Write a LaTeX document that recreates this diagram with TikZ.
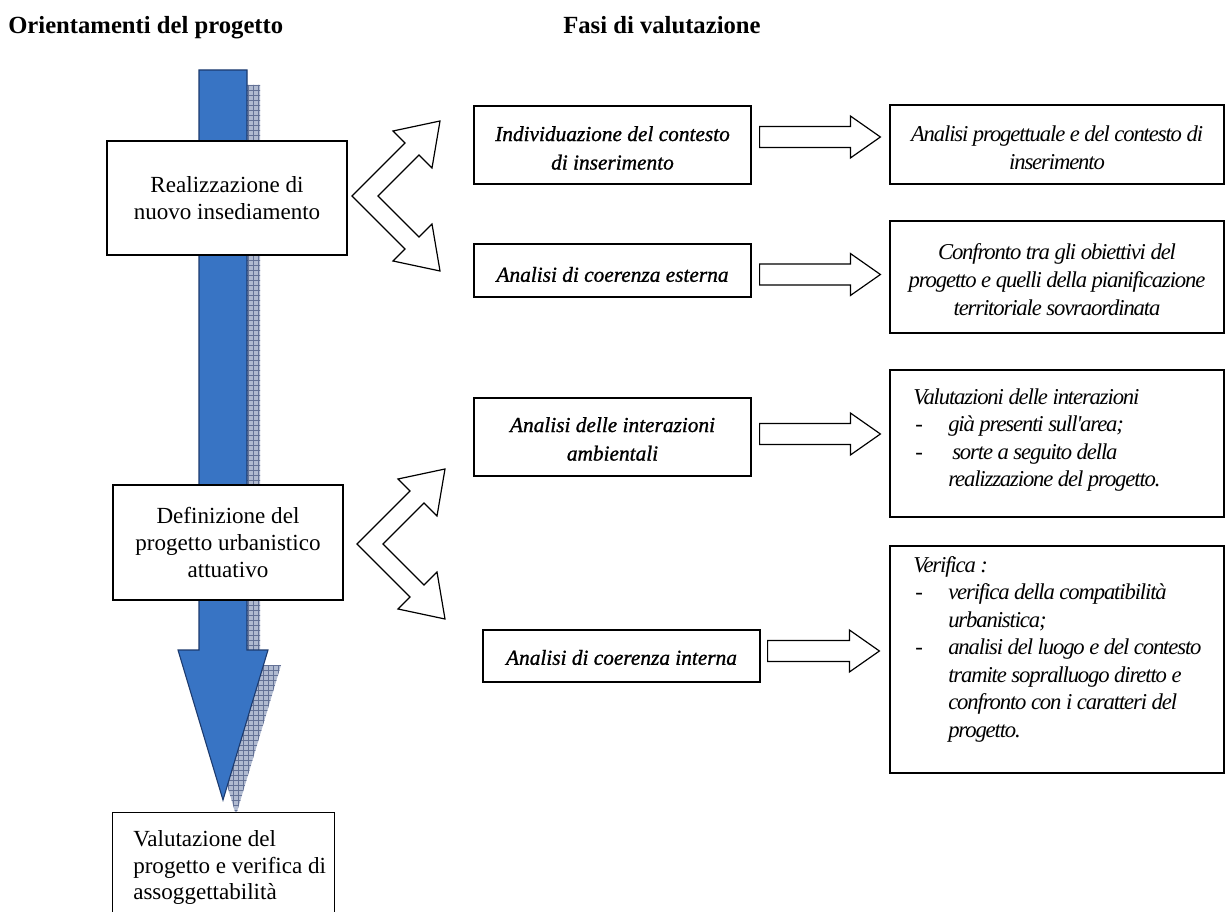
\documentclass[tikz,border=0pt]{standalone}
\usepackage{fontspec}
\setmainfont{Liberation Serif}
\newfontfamily\midfont{Liberation Serif}[ItalicFeatures={FakeBold=1.0}]
\newfontfamily\rightfont{Liberation Serif}[LetterSpace=-5]
\usetikzlibrary{calc,fit}
\definecolor{arrowblue}{RGB}{56,116,196}
\definecolor{arrowedge}{RGB}{28,58,110}
\definecolor{shadowbg}{RGB}{176,186,208}
\definecolor{shadowln}{RGB}{100,114,150}
\newcommand\dashlead{\makebox[26.25pt][l]{\hspace*{1.5pt}-}}
\newcommand\contlead{\hspace*{26.25pt}}
\newcommand\blockarr[2]{\draw[blockarrow] let \p1=(#1), \p2=(#2) in
  (\x1,\y1+7.9pt) -- (\x2-22.5pt,\y1+7.9pt) -- (\x2-22.5pt,\y1+15.75pt) -- (\x2,\y1)
  -- (\x2-22.5pt,\y1-15.75pt) -- (\x2-22.5pt,\y1-7.9pt) -- (\x1,\y1-7.9pt) -- cycle;}
\newcommand\bigarrowpath{(199,70) -- (247,70) -- (247,650) -- (268,650) -- (223,800) -- (178,650) -- (199,650) -- cycle}
\begin{document}
\begin{tikzpicture}[x=0.75pt,y=-0.75pt,
  box/.style={draw=black, line width=0.9pt, fill=white, inner sep=0pt},
  lefttext/.style={font=\fontsize{17.3}{20.5}\selectfont, align=center, inner sep=0pt},
  midtext/.style={font=\midfont\itshape\fontsize{16}{21.4}\selectfont, align=center, inner sep=0pt},
  righttext/.style={font=\rightfont\itshape\fontsize{17}{21}\selectfont, align=center, inner sep=0pt},
  listtext/.style={font=\rightfont\itshape\fontsize{17}{20.6}\selectfont, align=left, inner sep=0pt, anchor=north west},
  titletext/.style={font=\bfseries\fontsize{18.5}{22}\selectfont, anchor=base west, inner sep=0pt},
  blockarrow/.style={draw=black, line width=0.9pt, fill=white, line join=miter},
  bigarrow/.style={draw=arrowedge, line width=0.8pt, fill=arrowblue, line join=miter},
  chevron/.pic={\draw[blockarrow] (0,0) -- (53,-53) -- (41,-65) -- (88,-75) -- (80,-28) -- (67,-41) -- (26,0)
      -- (67,41) -- (80,28) -- (88,75) -- (41,65) -- (53,53) -- cycle;}
]
\useasboundingbox (0,0) rectangle (1228,912);
\fill[white] (0,0) rectangle (1228,912);

% titles
\node[titletext] (t1) at (8,34) {Orientamenti del progetto};
\node[titletext] (t2) at (563,34) {Fasi di valutazione};

% big arrow with hatched shadow
\begin{scope}[shift={(13,15)}]
  \clip \bigarrowpath;
  \fill[shadowbg] (150,50) rectangle (300,850);
  \draw[shadowln, line width=0.5pt, step=3.75pt] (150,50) grid (300,850);
\end{scope}
\path[bigarrow] \bigarrowpath;

% left column
\node[box, fit={(107,141) (347,255)}] (real) {};
\node[lefttext] (realtxt) at (real.center) {Realizzazione di\\nuovo insediamento};
\node[box, fit={(113,485) (343,600)}] (defin) {};
\node[lefttext] (defintxt) at (defin.center) {Definizione del\\progetto urbanistico\\attuativo};
\node[inner sep=0pt, fit={(113,813) (334,915)}] (valut) {};
\fill[white] (valut.south west) rectangle (valut.north east);
\draw[line width=0.9pt] (valut.south west) -- (valut.north west) -- (valut.north east) -- (valut.south east);
\node[listtext, font=\fontsize{17.3}{19.9}\selectfont] (valuttxt) at (133,828) {\strut Valutazione del\\progetto e verifica di\\assoggettabilità};

% middle column
\node[box, fit={(474,106) (751,184)}] (m1) {};
\node[midtext] (m1txt) at ($(m1.center)+(0,3)$) {Individuazione del contesto\\di inserimento};
\node[box, fit={(474,244) (751,297)}] (m2) {};
\node[midtext] (m2txt) at ($(m2.center)+(0,4)$) {Analisi di coerenza esterna};
\node[box, fit={(474,398) (751,476)}] (m3) {};
\node[midtext] (m3txt) at ($(m3.center)+(0,2)$) {Analisi delle interazioni\\ambientali};
\node[box, fit={(483,630) (760,682)}] (m4) {};
\node[midtext] (m4txt) at ($(m4.center)+(0,1.5)$) {Analisi di coerenza interna};

% right column
\node[box, fit={(890,105) (1224,184)}] (r1) {};
\node[righttext] (r1txt) at ($(r1.center)+(0,3.5)$) {Analisi progettuale e del contesto di\\inserimento};
\node[box, fit={(890,221) (1224,333)}] (r2) {};
\node[righttext] (r2txt) at ($(r2.center)+(0,3)$) {Confronto tra gli obiettivi del\\progetto e quelli della pianificazione\\territoriale sovraordinata};
\node[box, fit={(890,370) (1224,517)}] (r3) {};
\node[box, fit={(890,546) (1224,773)}] (r4) {};
\node[listtext] (r3txt) at (913,385) {\strut Valutazioni delle interazioni\\
  \dashlead già presenti sull'area;\\
  \dashlead\hspace*{3pt}sorte a seguito della\\
  \contlead realizzazione del progetto.};
\node[listtext] (r4txt) at (913,553) {\strut Verifica :\\
  \dashlead verifica della compatibilità\\
  \contlead urbanistica;\\
  \dashlead analisi del luogo e del contesto\\
  \contlead tramite sopralluogo diretto e\\
  \contlead confronto con i caratteri del\\
  \contlead progetto.};

% chevron double arrows
\pic at (352,196) {chevron};
\pic at (357,544) {chevron};

% straight block arrows
\coordinate (a1s) at ($(m1.east)+(8,-8)$);
\coordinate (a1e) at ($(r1.west)+(-9,-8)$);
\coordinate (a2s) at ($(m2.east)+(8,4)$);
\coordinate (a2e) at ($(r2.west)+(-9,0)$);
\coordinate (a3s) at ($(m3.east)+(8,-3)$);
\coordinate (a3e) at ($(r3.west)+(-9,0)$);
\coordinate (a4s) at ($(m4.east)+(7,-5)$);
\coordinate (a4e) at ($(r4.west)+(-10,0)$);
\blockarr{a1s}{a1e}
\blockarr{a2s}{a2e}
\blockarr{a3s}{a3e}
\blockarr{a4s}{a4e}
\end{tikzpicture}
\end{document}
